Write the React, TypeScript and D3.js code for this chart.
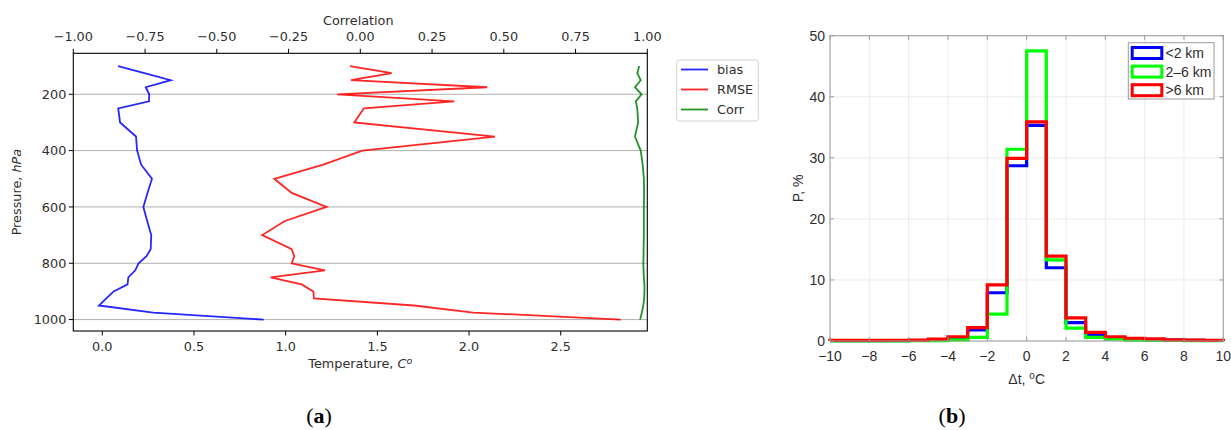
import React from "react";
import * as d3 from "d3";

// ---------- Panel (a) data ----------
const levels = [100, 125, 150, 175, 200, 225, 250, 300, 350, 400, 450, 500, 550, 600, 650, 700, 750, 775, 800, 825, 850, 875, 900, 925, 950, 975, 1000];
const bias = [0.086, 0.23, 0.373, 0.237, 0.256, 0.255, 0.087, 0.097, 0.184, 0.19, 0.212, 0.271, 0.247, 0.224, 0.245, 0.267, 0.264, 0.241, 0.198, 0.18, 0.142, 0.138, 0.062, 0.022, -0.018, 0.278, 0.88];
const rmse = [1.351, 1.578, 1.356, 2.099, 1.281, 1.919, 1.427, 1.374, 2.141, 1.418, 1.205, 0.938, 1.033, 1.223, 0.996, 0.872, 1.033, 1.047, 1.033, 1.214, 0.918, 1.087, 1.151, 1.154, 1.7, 2.023, 2.827];
const corr = [0.972, 0.965, 0.977, 0.957, 0.98, 0.96, 0.965, 0.968, 0.957, 0.977, 0.984, 0.988, 0.989, 0.988, 0.988, 0.988, 0.987, 0.987, 0.986, 0.987, 0.988, 0.99, 0.99, 0.989, 0.986, 0.981, 0.975];
const tempTicks = [0, 0.5, 1.0, 1.5, 2.0, 2.5];
const corrTicks = [-1, -0.75, -0.5, -0.25, 0, 0.25, 0.5, 0.75, 1];
const presTicks = [200, 400, 600, 800, 1000];

// ---------- Panel (b) data ----------
const binEdges = [-10, -9, -8, -7, -6, -5, -4, -3, -2, -1, 0, 1, 2, 3, 4, 5, 6, 7, 8, 9, 10];
const histLow = [0.05, 0.05, 0.05, 0.05, 0.08, 0.15, 0.4, 1.8, 7.9, 28.7, 35.3, 12.0, 3.0, 1.0, 0.5, 0.3, 0.2, 0.15, 0.1, 0.08];
const histMid = [0.03, 0.03, 0.03, 0.03, 0.04, 0.05, 0.2, 0.6, 4.4, 31.4, 47.5, 13.3, 2.1, 0.6, 0.3, 0.15, 0.1, 0.08, 0.05, 0.04];
const histHigh = [0.1, 0.1, 0.1, 0.12, 0.15, 0.3, 0.7, 2.2, 9.2, 29.9, 35.9, 13.9, 3.8, 1.4, 0.7, 0.45, 0.35, 0.2, 0.15, 0.1];
const histNames = ["<2 km", "2\u20136 km", ">6 km"];
const histColors = ["#0000ff", "#00ff00", "#ff0000"];
const xHistTicks = [-10, -8, -6, -4, -2, 0, 2, 4, 6, 8, 10];
const yHistTicks = [0, 10, 20, 30, 40, 50];

const fmtMinus = (s: string) => s.replace("-", "\u2212");

export default function App() {
  // panel a geometry
  const aL = 73.3, aR = 647.3, aT = 53.3, aB = 331;
  const xT = d3.scaleLinear().domain([-0.158, 2.972]).range([aL, aR]);
  const xC = d3.scaleLinear().domain([-1, 1]).range([aL, aR]);
  const yP = d3.scaleLinear().domain([54.5, 1040.5]).range([aT, aB]);

  const lineT = d3.line<number>().x((d) => xT(d)).y((_, i) => yP(levels[i]));
  const lineC = d3.line<number>().x((d) => xC(d)).y((_, i) => yP(levels[i]));

  // panel b geometry
  const bL = 830, bR = 1223.3, bT = 35.7, bB = 341;
  const xH = d3.scaleLinear().domain([-10, 10]).range([bL, bR]);
  const yH = d3.scaleLinear().domain([0, 50]).range([bB, bT]);

  const stairs = (vals: number[]) => {
    const pts: [number, number][] = [[binEdges[0], 0]];
    vals.forEach((v, i) => {
      pts.push([binEdges[i], v]);
      pts.push([binEdges[i + 1], v]);
    });
    pts.push([binEdges[binEdges.length - 1], 0]);
    return d3.line<[number, number]>().x((d) => xH(d[0])).y((d) => yH(d[1]))(pts) || "";
  };

  const fA = "DejaVu Sans, sans-serif";
  const fB = "Liberation Sans, Arial, sans-serif";
  const txt = "#2e2e2e";
  const aFs = 12.8;
  const bFs = 14;
  const lw = 1.8;

  const hists = [histLow, histMid, histHigh];

  return (
    <svg width={1231} height={430} style={{ position: "absolute", left: 0, top: 0, background: "#fff" }}>
      <rect x={0} y={0} width={1231} height={430} fill="#fff" />
      {/* ================= Panel (a) ================= */}
      {presTicks.map((p) => (
        <line key={"g" + p} x1={aL} x2={aR} y1={yP(p)} y2={yP(p)} stroke="#b0b0b0" strokeWidth={1} />
      ))}
      <path d={lineT(bias) || ""} fill="none" stroke="#0000ff" strokeOpacity={0.85} strokeWidth={lw} />
      <path d={lineT(rmse) || ""} fill="none" stroke="#ff0000" strokeOpacity={0.85} strokeWidth={lw} />
      <path d={lineC(corr) || ""} fill="none" stroke="#008000" strokeOpacity={0.85} strokeWidth={lw} />
      <rect x={aL} y={aT} width={aR - aL} height={aB - aT} fill="none" stroke="#000" strokeWidth={1.1} />
      {/* left ticks */}
      {presTicks.map((p) => (
        <g key={"yt" + p}>
          <line x1={aL - 4.5} x2={aL} y1={yP(p)} y2={yP(p)} stroke="#000" strokeWidth={1} />
          <text x={aL - 7} y={yP(p)} dy="0.36em" textAnchor="end" fontFamily={fA} fontSize={aFs} fill={txt}>
            {p}
          </text>
        </g>
      ))}
      {/* bottom ticks */}
      {tempTicks.map((t) => (
        <g key={"xt" + t}>
          <line x1={xT(t)} x2={xT(t)} y1={aB} y2={aB + 4.5} stroke="#000" strokeWidth={1} />
          <text x={xT(t)} y={aB + 19.5} textAnchor="middle" fontFamily={fA} fontSize={aFs} fill={txt}>
            {t.toFixed(1)}
          </text>
        </g>
      ))}
      {/* top ticks */}
      {corrTicks.map((c) => (
        <g key={"ct" + c}>
          <line x1={xC(c)} x2={xC(c)} y1={aT - 4.5} y2={aT} stroke="#000" strokeWidth={1} />
          <text x={xC(c)} y={aT - 12} textAnchor="middle" fontFamily={fA} fontSize={aFs} fill={txt}>
            {fmtMinus(c.toFixed(2))}
          </text>
        </g>
      ))}
      <text x={(aL + aR) / 2 - 2} y={25} textAnchor="middle" fontFamily={fA} fontSize={aFs} fill={txt}>
        Correlation
      </text>
      <text x={(aL + aR) / 2} y={368} textAnchor="middle" fontFamily={fA} fontSize={aFs} fill={txt}>
        Temperature, <tspan fontStyle="italic">C</tspan>
        <tspan fontStyle="italic" dy="-4.5" fontSize={9.5}>o</tspan>
      </text>
      <text
        transform={`translate(21,${(aT + aB) / 2}) rotate(-90)`}
        textAnchor="middle"
        fontFamily={fA}
        fontSize={aFs}
        fill={txt}
      >
        Pressure, <tspan fontStyle="italic">hPa</tspan>
      </text>
      {/* legend a */}
      <rect x={676.7} y={60} width={81.6} height={61} rx={2.5} fill="#fff" stroke="#d0d0d0" strokeWidth={1} />
      {[
        ["bias", "#0000ff"],
        ["RMSE", "#ff0000"],
        ["Corr", "#008000"],
      ].map(([n, c], i) => (
        <g key={n}>
          <line x1={681} x2={708} y1={69.5 + i * 20} y2={69.5 + i * 20} stroke={c} strokeOpacity={0.85} strokeWidth={lw} />
          <text x={717} y={69.5 + i * 20} dy="0.36em" fontFamily={fA} fontSize={aFs} fill={txt}>
            {n}
          </text>
        </g>
      ))}
      <text x={319} y={423} textAnchor="middle" fontFamily="Liberation Serif, serif" fontSize={22} fill="#000">
        (<tspan fontWeight="bold">a</tspan>)
      </text>

      {/* ================= Panel (b) ================= */}
      {xHistTicks.map((t) => (
        <line key={"bgx" + t} x1={xH(t)} x2={xH(t)} y1={bT} y2={bB} stroke="#e6e6e6" strokeWidth={0.8} />
      ))}
      {yHistTicks.map((t) => (
        <line key={"bgy" + t} x1={bL} x2={bR} y1={yH(t)} y2={yH(t)} stroke="#e6e6e6" strokeWidth={0.8} />
      ))}
      {hists.map((h, i) => (
        <path key={"h" + i} d={stairs(h)} fill="none" stroke={histColors[i]} strokeWidth={3.2} strokeLinejoin="miter" />
      ))}
      <rect x={bL} y={bT} width={bR - bL} height={bB - bT} fill="none" stroke="#9a9a9a" strokeWidth={1} />
      {xHistTicks.map((t) => (
        <g key={"bxt" + t}>
          <line x1={xH(t)} x2={xH(t)} y1={bB} y2={bB - 4} stroke="#9a9a9a" />
          <line x1={xH(t)} x2={xH(t)} y1={bT} y2={bT + 4} stroke="#9a9a9a" />
          <text x={xH(t)} y={bB + 20} textAnchor="middle" fontFamily={fB} fontSize={bFs} fill={txt}>
            {fmtMinus(String(t))}
          </text>
        </g>
      ))}
      {yHistTicks.map((t) => (
        <g key={"byt" + t}>
          <line x1={bL} x2={bL + 4} y1={yH(t)} y2={yH(t)} stroke="#9a9a9a" />
          <line x1={bR} x2={bR - 4} y1={yH(t)} y2={yH(t)} stroke="#9a9a9a" />
          <text x={bL - 5} y={yH(t)} dy="0.36em" textAnchor="end" fontFamily={fB} fontSize={bFs} fill={txt}>
            {t}
          </text>
        </g>
      ))}
      <text x={(bL + bR) / 2} y={384} textAnchor="middle" fontFamily={fB} fontSize={bFs} fill={txt}>
        {"\u0394t, "}
        <tspan dy="-5" fontSize={10}>o</tspan>
        <tspan dy="5">C</tspan>
      </text>
      <text
        transform={`translate(803,${(bT + bB) / 2}) rotate(-90)`}
        textAnchor="middle"
        fontFamily={fB}
        fontSize={bFs}
        fill={txt}
      >
        P, %
      </text>
      {/* legend b */}
      <rect x={1128.3} y={42.7} width={85.7} height={56.3} fill="#fff" stroke="#9a9a9a" strokeWidth={1} />
      {histNames.map((n, i) => (
        <g key={n}>
          <rect x={1132.2} y={47.5 + i * 18.6} width={29.6} height={11} fill="none" stroke={histColors[i]} strokeWidth={3} />
          <text x={1165.5} y={53 + i * 18.6} dy="0.36em" fontFamily={fB} fontSize={14} fill={txt}>
            {n}
          </text>
        </g>
      ))}
      <text x={952} y={423} textAnchor="middle" fontFamily="Liberation Serif, serif" fontSize={22} fill="#000">
        (<tspan fontWeight="bold">b</tspan>)
      </text>
    </svg>
  );
}
